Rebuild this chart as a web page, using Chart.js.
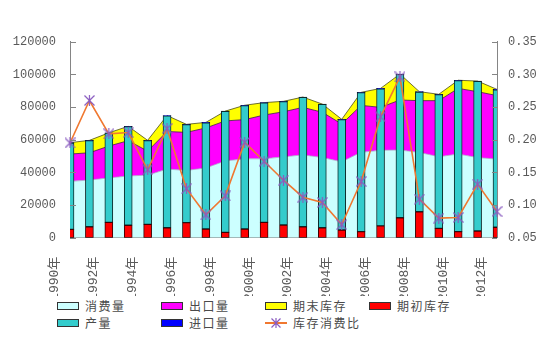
<!DOCTYPE html>
<html>
<head>
<meta charset="utf-8">
<script src="https://cdn.jsdelivr.net/npm/chart.js@4/dist/chart.umd.min.js"></script>
<style>
  html, body { margin: 0; padding: 0; background: #fff; }
  #wrap { position: relative; width: 554px; height: 341px; overflow: hidden; }
  #chart { position: absolute; left: 0; top: 0; }
  #legend { position: absolute; left: 0; top: 296px; width: 554px; height: 45px; background: #fff;
            font-family: "Noto Sans CJK SC", sans-serif; font-size: 12px; color: #4a4a4a; }
  .item { position: absolute; height: 14px; line-height: 14px; letter-spacing: 1.5px; white-space: nowrap; }
  .item .sw { position: absolute; left: 0; top: 3px; width: 20px; height: 6px; border: 1px solid #333; }
  .item .tx { position: absolute; left: 28px; top: 0; }
  .item .ln { position: absolute; left: 0; top: 6px; width: 22px; height: 2px; background: #f07830; }
  .item canvas { position: absolute; left: 6px; top: 2px; }
</style>
</head>
<body>
<div id="wrap">
  <canvas id="chart" width="554" height="341"></canvas>
  <div id="legend"></div>
</div>
<script>
// Years on the category axis
const yearLabels = ['1990年','1991年','1992年','1993年','1994年','1995年','1996年','1997年','1998年','1999年',
  '2000年','2001年','2002年','2003年','2004年','2005年','2006年','2007年','2008年','2009年','2010年','2011年','2012年'];

// Demand side (stacked areas)
const consumption = [34500, 35300, 36600, 37800, 38300, 42000, 41200, 42700, 47000, 48300, 48300, 49500,
  50700, 49100, 46500, 52300, 53500, 53700, 52200, 49600, 51200, 49100, 48100];
const exportVol = [16700, 16700, 19500, 21600, 14700, 23000, 23300, 24500, 24500, 24000, 26800, 27600,
  29100, 27700, 23100, 28700, 26300, 30600, 31700, 34300, 40200, 40300, 38900];
const endingStock = [7000, 7600, 8100, 8800, 6600, 9800, 4900, 3400, 6000, 8800, 7600, 6400,
  6300, 5000, 2900, 8000, 11600, 15900, 5500, 3900, 5000, 6500, 3800];

// Supply side (stacked bars)
const beginningStock = [5100, 6700, 9400, 7600, 8200, 6100, 9200, 5300, 3300, 5300, 9400, 7800,
  6700, 6100, 4700, 3700, 7200, 12200, 15900, 5700, 3700, 4100, 6400];
const production = [52900, 52700, 54600, 60400, 51200, 68500, 60000, 65100, 74000, 75600, 73100, 75500,
  79200, 75500, 67600, 85100, 84000, 87800, 73300, 81900, 92500, 91600, 84200];
const imports = [200, 200, 200, 200, 200, 200, 200, 200, 200, 200, 200, 200,
  200, 200, 200, 200, 200, 200, 200, 200, 200, 200, 200];

// Stock-to-use ratio (right axis)
const stockRatio = [0.195, 0.260, 0.209, 0.211, 0.154, 0.217, 0.125, 0.085, 0.114, 0.196, 0.167, 0.138,
  0.112, 0.104, 0.070, 0.136, 0.235, 0.296, 0.109, 0.080, 0.081, 0.132, 0.090];

// Axis tick values
const leftTicks = [0, 20000, 40000, 60000, 80000, 100000, 120000];
const rightTicks = [0.05, 0.10, 0.15, 0.20, 0.25, 0.30, 0.35];

const axisColor = '#858585';
const markerColor = '#8a5cc0';
const tickFont = { family: '"Liberation Mono", "DejaVu Sans Mono", monospace', size: 12 };

// Asterisk marker: an X crossed by a vertical stroke
function asterisk(size) {
  const c = document.createElement('canvas');
  c.width = size; c.height = size;
  const g = c.getContext('2d');
  g.strokeStyle = markerColor;
  g.lineWidth = 1.2;
  const m = size / 2, r = size / 2 - 0.5;
  g.beginPath();
  g.moveTo(m - r, m - r); g.lineTo(m + r, m + r);
  g.moveTo(m + r, m - r); g.lineTo(m - r, m + r);
  g.moveTo(m, 0); g.lineTo(m, size);
  g.stroke();
  return c;
}
const starMark = asterisk(11);

// Short tick marks on the inner side of both value axes, plus the vertical year labels
const axisDecor = {
  id: 'axisDecor',
  afterDraw(chart) {
    const { ctx, chartArea } = chart;
    ctx.save();
    ctx.strokeStyle = axisColor;
    ctx.lineWidth = 1;
    const yl = chart.scales.y, yr = chart.scales.y1, xs = chart.scales.x;
    yl.ticks.forEach(t => {
      const p = Math.round(yl.getPixelForValue(t.value)) + 0.5;
      ctx.beginPath(); ctx.moveTo(chartArea.left, p); ctx.lineTo(chartArea.left + 6, p); ctx.stroke();
    });
    yr.ticks.forEach(t => {
      const p = Math.round(yr.getPixelForValue(t.value)) + 0.5;
      ctx.beginPath(); ctx.moveTo(chartArea.right - 5, p); ctx.lineTo(chartArea.right, p); ctx.stroke();
    });
    // every other year, reading upward, end of the text just under the axis
    ctx.fillStyle = '#5a5a5a';
    ctx.font = '13px "Liberation Mono", "Noto Sans CJK SC", monospace';
    ctx.textAlign = 'right';
    ctx.textBaseline = 'middle';
    yearLabels.forEach((lab, i) => {
      if (i % 2) return;
      const px = xs.getPixelForTick(i) - 15;
      ctx.save();
      ctx.translate(px, chartArea.bottom + 19);
      ctx.rotate(-Math.PI / 2);
      ctx.fillText(lab, 0, 0);
      ctx.restore();
    });
    ctx.restore();
  }
};

const areaBase = { type: 'line', stack: 'demand', yAxisID: 'y', pointRadius: 0, tension: 0, order: 3 };
const barBase = { type: 'bar', stack: 'supply', yAxisID: 'y', barThickness: 8, borderWidth: 1, borderSkipped: false, order: 2 };

new Chart(document.getElementById('chart'), {
  type: 'bar',
  data: {
    labels: yearLabels,
    datasets: [
      Object.assign({}, areaBase, { label: '消费量', data: consumption, backgroundColor: '#ccffff', borderColor: '#b0a0c8', borderWidth: 0.8, fill: 'origin' }),
      Object.assign({}, areaBase, { label: '出口量', data: exportVol, backgroundColor: '#ff00ff', borderColor: '#3a2a3a', borderWidth: 0.8, fill: '-1' }),
      Object.assign({}, areaBase, { label: '期末库存', data: endingStock, backgroundColor: '#ffff00', borderColor: '#4a4a20', borderWidth: 0.8, fill: '-1' }),
      Object.assign({}, barBase, { label: '期初库存', data: beginningStock, backgroundColor: '#ff0000', borderColor: '#3a0000' }),
      Object.assign({}, barBase, { label: '产量', data: production, backgroundColor: '#33cccc', borderColor: '#0d2a2a' }),
      Object.assign({}, barBase, { label: '进口量', data: imports, backgroundColor: '#0000ff', borderColor: '#000033' }),
      { type: 'line', label: '库存消费比', data: stockRatio, yAxisID: 'y1', order: 1, tension: 0,
        borderColor: '#f07830', borderWidth: 1.6, fill: false,
        pointStyle: starMark, pointRadius: 5.5 }
    ]
  },
  options: {
    responsive: false,
    animation: false,
    devicePixelRatio: 1,
    layout: { padding: { top: 41.7, left: 0, right: 0, bottom: 0 } },
    plugins: { legend: { display: false }, tooltip: { enabled: false } },
    scales: {
      x: {
        type: 'category',
        offset: false,
        stacked: true,
        grid: { display: false, drawTicks: false },
        border: { display: true, color: axisColor, width: 1 },
        ticks: { display: false },
        afterFit: s => { s.height = 103.3; }
      },
      y: {
        position: 'left', stacked: true, min: 0, max: 120000,
        grid: { display: false, drawTicks: false },
        border: { display: true, color: axisColor, width: 1 },
        ticks: { padding: 14, color: '#595959', font: tickFont, callback: v => String(v) },
        afterBuildTicks: s => { s.ticks = leftTicks.map(v => ({ value: v })); },
        afterFit: s => { s.width = 70; }
      },
      y1: {
        position: 'right', stacked: false, min: 0.05, max: 0.35,
        grid: { display: false, drawTicks: false },
        border: { display: true, color: axisColor, width: 1 },
        ticks: { padding: 11, color: '#595959', font: tickFont, callback: v => Number(v).toFixed(2) },
        afterBuildTicks: s => { s.ticks = rightTicks.map(v => ({ value: v })); },
        afterFit: s => { s.width = 57; }
      }
    }
  },
  plugins: [axisDecor]
});

// Legend laid out in two rows beneath the axis labels
const legendItems = [
  { text: '消费量', color: '#ccffff', x: 57, row: 0 },
  { text: '出口量', color: '#ff00ff', x: 161, row: 0 },
  { text: '期末库存', color: '#ffff00', x: 265, row: 0 },
  { text: '期初库存', color: '#ff0000', x: 369, row: 0 },
  { text: '产量', color: '#33cccc', x: 57, row: 1 },
  { text: '进口量', color: '#0000ff', x: 161, row: 1 },
  { text: '库存消费比', line: true, x: 265, row: 1 }
];
const legendEl = document.getElementById('legend');
legendItems.forEach(it => {
  const d = document.createElement('div');
  d.className = 'item';
  d.style.left = it.x + 'px';
  d.style.top = (3 + it.row * 17) + 'px';
  if (it.line) {
    d.innerHTML = '<span class="ln"></span><span class="tx"></span>';
    d.appendChild(asterisk(10));
  } else {
    d.innerHTML = '<span class="sw" style="background:' + it.color + '"></span><span class="tx"></span>';
  }
  d.querySelector('.tx').textContent = it.text;
  legendEl.appendChild(d);
});
</script>
</body>
</html>
